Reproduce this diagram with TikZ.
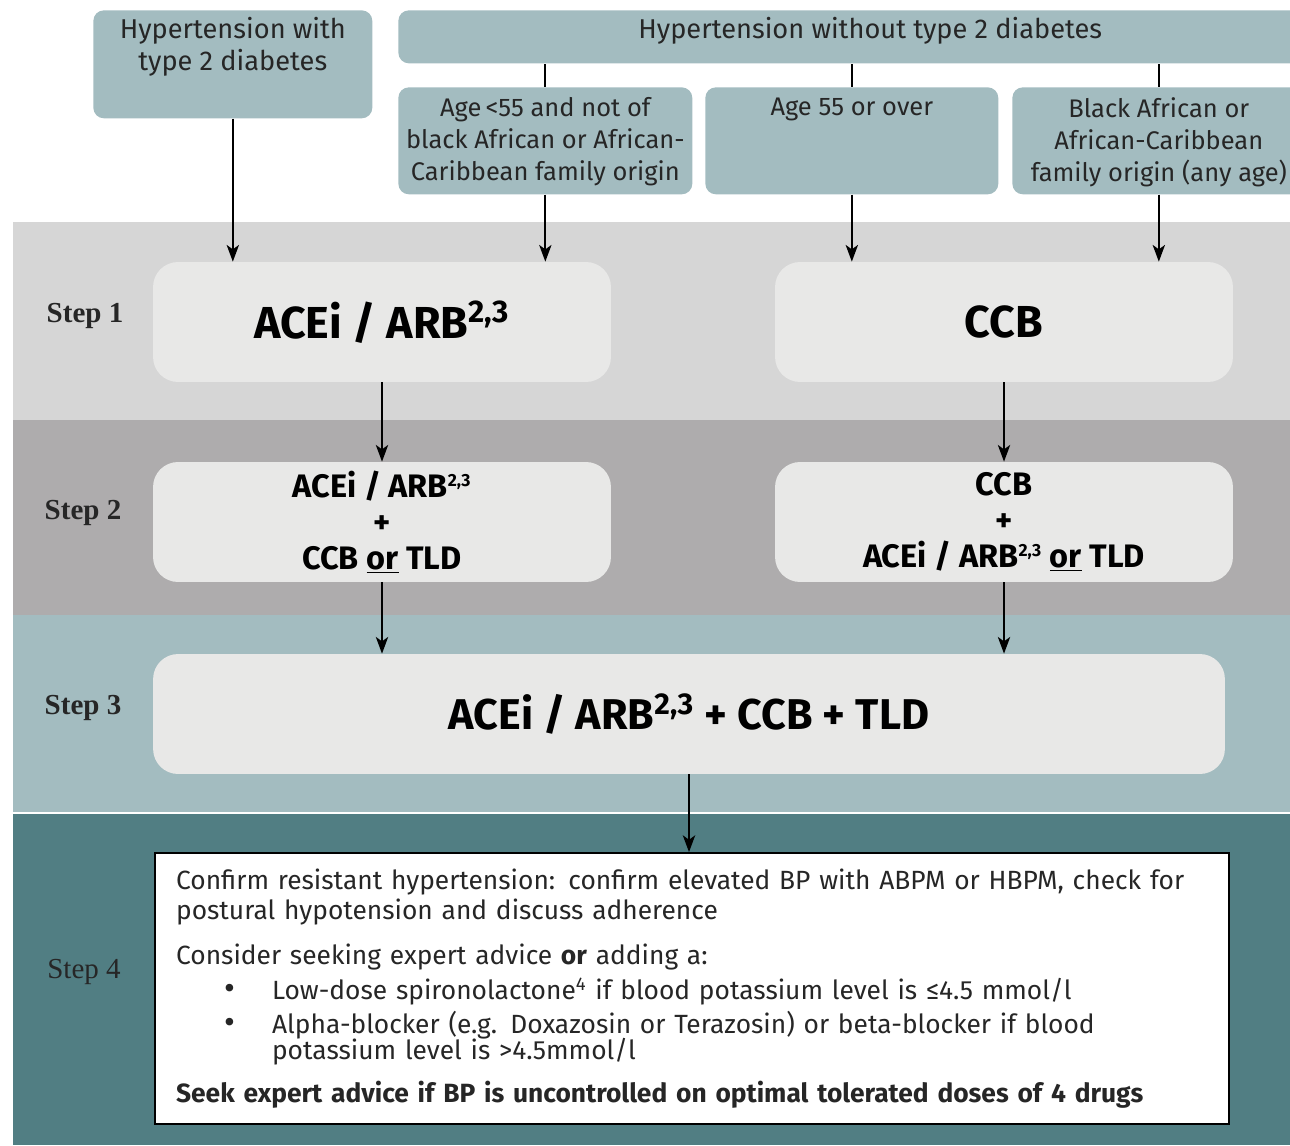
\documentclass[tikz,border=0pt]{standalone}
\usepackage{fontspec}
\setmainfont{Fira Sans}
\newfontfamily\stepfont{Liberation Serif}
\usetikzlibrary{arrows.meta}
\definecolor{boxteal}{HTML}{A3BCC0}
\definecolor{bandlight}{HTML}{D6D6D6}
\definecolor{bandmid}{HTML}{AEACAD}
\definecolor{banddark}{HTML}{517E83}
\definecolor{drugfill}{HTML}{E8E8E7}
\definecolor{ink}{HTML}{262626}
\newcommand{\toplines}[3]{\parbox[c][#2][t]{#1}{\centering\vspace*{4pt}#3}}
\newcommand{\bigbullet}{\hspace*{0.96cm}\makebox[0.96cm][l]{\fontsize{19}{10}\selectfont\textbullet}}

\begin{document}
\begin{tikzpicture}[x=0.02cm,y=-0.02cm,
  topbox/.style={fill=boxteal,rounded corners=6pt,inner sep=0pt,anchor=north west,text=ink,font=\fontsize{15.5}{18}\selectfont},
  drugbox/.style={fill=drugfill,rounded corners=0.5cm,minimum width=9.16cm,minimum height=2.4cm,align=center,text=black},
  steplabel/.style={text=ink,font=\stepfont\bfseries\fontsize{16.5}{18}\selectfont},
  arr/.style={line width=1.1pt,-{Stealth[length=9.5pt,width=7pt,inset=2.5pt]}}]
   \useasboundingbox (0,0) rectangle (1290,1145);
   \fill[bandlight] (13,222) rectangle (1290,420);
   \fill[bandmid] (13,420) rectangle (1290,615);
   \fill[boxteal] (13,615) rectangle (1290,812);
   \fill[banddark] (13,814) rectangle (1290,1145);
   \node[topbox] (diab) at (93,10) {\toplines{5.58cm}{2.16cm}{Hypertension with\\ type 2 diabetes}};
   \node[topbox] (nodiab) at (398,10) {\toplines{18.88cm}{1.06cm}{Hypertension without type 2 diabetes}};
   \node[topbox,font=\fontsize{14.5}{18}\selectfont] (young) at (398,87)
    {\toplines{5.88cm}{2.14cm}{\vspace*{2pt}Age\,<55 and not of\\ black African or African-\\ Caribbean family origin}};
   \node[topbox,font=\fontsize{14.5}{18}\selectfont] (older) at (705,87) {\toplines{5.86cm}{2.14cm}{\vspace*{2pt}Age 55 or over}};
   \node[topbox,font=\fontsize{14.5}{18}\selectfont] (black) at (1012,87)
    {\toplines{5.86cm}{2.14cm}{\vspace*{2pt}Black African or\\ African-Caribbean\\ family origin (any age)}};
   \node[drugbox,font=\bfseries\fontsize{25.5}{30}\selectfont] (acei) at (382,322) {ACEi / ARB\textsuperscript{2,3}};
   \node[drugbox,font=\bfseries\fontsize{25.5}{30}\selectfont] (ccb) at (1004,322) {CCB};
   \node[drugbox,font=\bfseries\fontsize{18.5}{20.5}\selectfont] (acei2) at (382,522)
    {ACEi / ARB\textsuperscript{\fontsize{10}{10}\selectfont 2,3}\\ +\\ CCB \underline{or} TLD};
   \node[drugbox,font=\bfseries\fontsize{18.5}{20.5}\selectfont] (ccb2) at (1004,522)
    {CCB\\ +\\ ACEi / ARB\textsuperscript{\fontsize{10}{10}\selectfont 2,3} \underline{or} TLD};
   \node[drugbox,minimum width=21.44cm,font=\bfseries\fontsize{24.5}{28}\selectfont] (triple) at (689,714)
    {ACEi / ARB\textsuperscript{2,3} + CCB + TLD};
   \node[draw=black,line width=1.1pt,fill=white,minimum width=21.48cm,minimum height=5.42cm,
    text width=20.64cm,inner xsep=0.42cm,align=left,text=ink,font=\fontsize{15}{17.6}\selectfont] (advice) at (692,988.5) {%
    Confirm resistant hypertension: confirm elevated BP with ABPM or HBPM, check for\\
    postural hypotension and discuss adherence\\[8pt]
    Consider seeking expert advice \textbf{or} adding a:\\[2pt]
    \bigbullet Low-dose spironolactone\textsuperscript{4} if blood potassium level is ≤4.5 mmol/l\\[2pt]
    \bigbullet Alpha-blocker (e.g. Doxazosin or Terazosin) or beta-blocker if blood\\[-3pt]
    \hspace*{1.92cm}potassium level is >4.5mmol/l\\[7pt]
    \textbf{Seek expert advice if BP is uncontrolled on optimal tolerated doses of 4 drugs}};
   \node[steplabel] (lab1) at (85,316) {Step 1};
   \node[steplabel] (lab2) at (83,513) {Step 2};
   \node[steplabel] (lab3) at (83,708) {Step 3};
   \node[steplabel,font=\stepfont\fontsize{16.5}{18}\selectfont] (lab4) at (84,972) {Step 4};
   \draw[line width=1.1pt] (young.north) -- (young.north |- nodiab.south);
   \draw[line width=1.1pt] (older.north) -- (older.north |- nodiab.south);
   \draw[line width=1.1pt] (black.north) -- (black.north |- nodiab.south);
   \draw[arr] (diab.south) -- (diab.south |- acei.north);
   \draw[arr] (young.south) -- (young.south |- acei.north);
   \draw[arr] (older.south) -- (older.south |- ccb.north);
   \draw[arr] (black.south) -- (black.south |- ccb.north);
   \draw[arr] (acei.south) -- (acei2.north);
   \draw[arr] (ccb.south) -- (ccb2.north);
   \draw[arr] (acei2.south) -- (acei2.south |- triple.north);
   \draw[arr] (ccb2.south) -- (ccb2.south |- triple.north);
   \draw[arr] (triple.south) -- (triple.south |- advice.north);
\end{tikzpicture}
\end{document}
